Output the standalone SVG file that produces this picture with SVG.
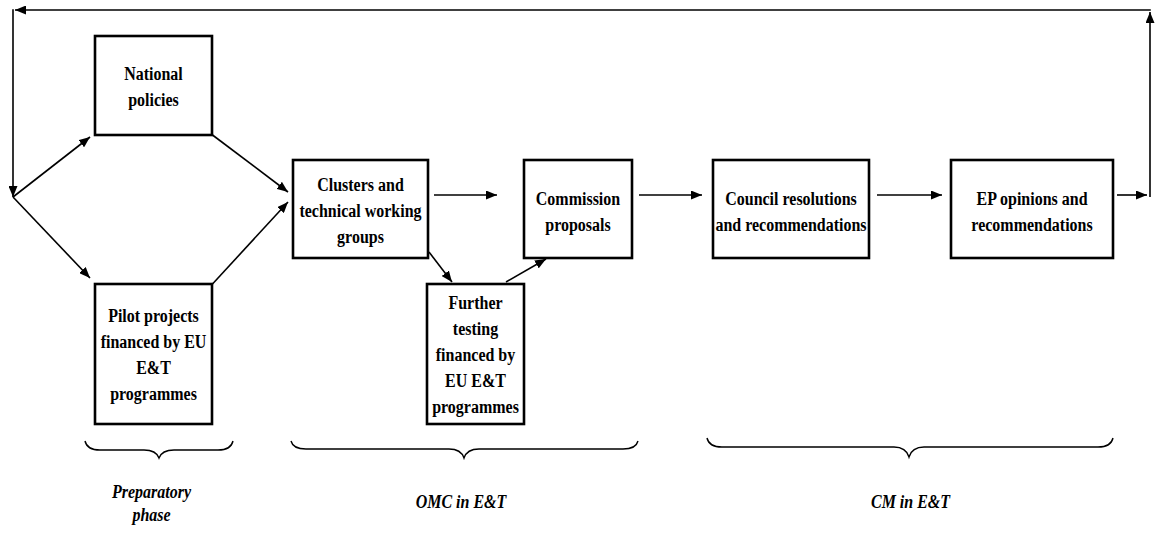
<svg xmlns="http://www.w3.org/2000/svg" width="1158" height="533" viewBox="0 0 1158 533">
<style>
.box{fill:#fff;stroke:#000;stroke-width:2.6}
.t{font-family:"Liberation Serif","Times New Roman",serif;font-weight:bold;font-size:19.2px;text-anchor:middle;fill:#000}
.l{font-family:"Liberation Serif","Times New Roman",serif;font-weight:bold;font-style:italic;font-size:19.2px;text-anchor:middle;fill:#000}
.c{fill:none;stroke:#000;stroke-width:1.6}
.br{fill:none;stroke:#000;stroke-width:1.4}
</style>
<defs>
<marker id="ah" viewBox="0 0 11 9" refX="11" refY="4.5" markerWidth="11" markerHeight="9" markerUnits="userSpaceOnUse" orient="auto">
<path d="M0,0 L11,4.5 L0,9 z" fill="#000"/>
</marker>
</defs>
<rect width="1158" height="533" fill="#fff"/>
<g id="connectors">
<line class="c" x1="1150" y1="197" x2="1150" y2="12" marker-end="url(#ah)"/>
<line class="c" x1="1150.8" y1="10" x2="15" y2="10" marker-end="url(#ah)"/>
<line class="c" x1="13" y1="9.2" x2="13" y2="197" marker-end="url(#ah)"/>
<line class="c" x1="13" y1="197" x2="90" y2="137" marker-end="url(#ah)"/>
<line class="c" x1="13" y1="197" x2="90" y2="278" marker-end="url(#ah)"/>
<line class="c" x1="212.5" y1="135" x2="288" y2="192" marker-end="url(#ah)"/>
<line class="c" x1="212.5" y1="284" x2="288" y2="202" marker-end="url(#ah)"/>
<line class="c" x1="434" y1="195" x2="497" y2="195" marker-end="url(#ah)"/>
<line class="c" x1="429" y1="252" x2="452" y2="282" marker-end="url(#ah)"/>
<line class="c" x1="506" y1="282" x2="546" y2="259" marker-end="url(#ah)"/>
<line class="c" x1="639" y1="195" x2="702" y2="195" marker-end="url(#ah)"/>
<line class="c" x1="877" y1="195" x2="942" y2="195" marker-end="url(#ah)"/>
<line class="c" x1="1117" y1="195" x2="1147" y2="195" marker-end="url(#ah)"/>
</g>
<g id="national">
<rect class="box" x="95" y="36" width="117" height="99"/>
<text class="t" transform="translate(153.5,80) scale(0.833,1)"><tspan x="0">National</tspan><tspan x="0" dy="26">policies</tspan></text>
</g>
<g id="pilot">
<rect class="box" x="95" y="284" width="117" height="140"/>
<text class="t" transform="translate(153.5,322) scale(0.833,1)"><tspan x="0">Pilot projects</tspan><tspan x="0" dy="26">financed by EU</tspan><tspan x="0" dy="26">E&amp;T</tspan><tspan x="0" dy="26">programmes</tspan></text>
</g>
<g id="clusters">
<rect class="box" x="293" y="160" width="135" height="98"/>
<text class="t" transform="translate(360.5,191) scale(0.833,1)"><tspan x="0">Clusters and</tspan><tspan x="0" dy="26">technical working</tspan><tspan x="0" dy="26">groups</tspan></text>
</g>
<g id="commission">
<rect class="box" x="524" y="160" width="108" height="98"/>
<text class="t" transform="translate(578,205) scale(0.833,1)"><tspan x="0">Commission</tspan><tspan x="0" dy="26">proposals</tspan></text>
</g>
<g id="further">
<rect class="box" x="427" y="284" width="97" height="140"/>
<text class="t" transform="translate(475.5,309) scale(0.833,1)"><tspan x="0">Further</tspan><tspan x="0" dy="26">testing</tspan><tspan x="0" dy="26">financed by</tspan><tspan x="0" dy="26">EU E&amp;T</tspan><tspan x="0" dy="26">programmes</tspan></text>
</g>
<g id="council">
<rect class="box" x="713" y="160" width="156" height="98"/>
<text class="t" transform="translate(791,205) scale(0.833,1)"><tspan x="0">Council resolutions</tspan><tspan x="0" dy="26">and recommendations</tspan></text>
</g>
<g id="ep">
<rect class="box" x="951" y="160" width="162" height="98"/>
<text class="t" transform="translate(1032,205) scale(0.833,1)"><tspan x="0">EP opinions and</tspan><tspan x="0" dy="26">recommendations</tspan></text>
</g>
<g id="preparatory">
<path class="br" d="M85,441 Q87,450 100,450 L144,450 Q156,450 159,458 Q162,450 174,450 L218,450 Q231,450 233,441"/>
<text class="l" transform="translate(151.5,498) scale(0.833,1)"><tspan x="0">Preparatory</tspan><tspan x="0" dy="23">phase</tspan></text>
</g>
<g id="omc">
<path class="br" d="M291,441 Q293,449 306,449 L449,449 Q461,449 464,458 Q467,449 479,449 L623,449 Q636,449 638,441"/>
<text class="l" transform="translate(461,508) scale(0.833,1)">OMC in E&amp;T</text>
</g>
<g id="cm">
<path class="br" d="M707,438 Q709,447 722,447 L894,447 Q906,447 909,457 Q912,447 924,447 L1098,447 Q1111,447 1113,438"/>
<text class="l" transform="translate(910.5,508) scale(0.833,1)">CM in E&amp;T</text>
</g>
</svg>
